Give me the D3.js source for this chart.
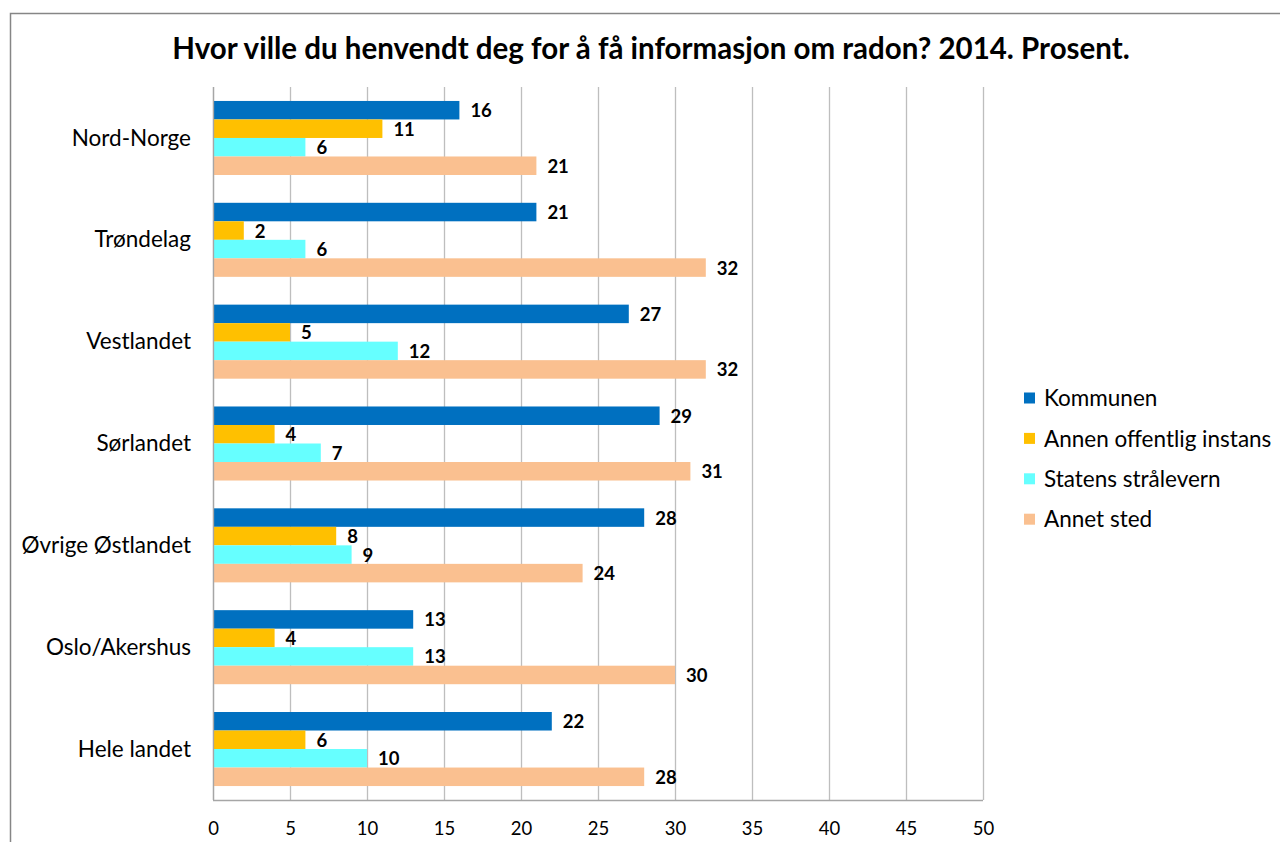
<!DOCTYPE html>
<html>
<head>
<meta charset="utf-8">
<script src="https://cdn.jsdelivr.net/npm/d3@7"></script>
<style>
	body { margin: 0; background: #fff; }
	svg { display: block; font-family: Lato, "Open Sans", sans-serif; }
</style>
</head>
<body>
<svg id="chart" width="1280" height="842"></svg>
<script>
// regions, top to bottom
const regions = ['Nord-Norge', 'Trøndelag', 'Vestlandet', 'Sørlandet', 'Øvrige Østlandet', 'Oslo/Akershus', 'Hele landet'];
const seriesNames = ['Kommunen', 'Annen offentlig instans', 'Statens strålevern', 'Annet sted'];
const seriesColors = ['#0070C0', '#FFC000', '#66FFFF', '#FAC090'];

const kommunen = [16, 21, 27, 29, 28, 13, 22];
const annenInstans = [11, 2, 5, 4, 8, 4, 6];
const stralevern = [6, 6, 12, 7, 9, 13, 10];
const annetSted = [21, 32, 32, 31, 24, 30, 28];
const xTicks = [0, 5, 10, 15, 20, 25, 30, 35, 40, 45, 50];

const series = [kommunen, annenInstans, stralevern, annetSted];

const svg = d3.select('#chart');

// outer chart frame
svg.append('rect')
	.attr('x', 10.5).attr('y', 13.5)
	.attr('width', 1300).attr('height', 900)
	.attr('fill', 'none')
	.attr('stroke', '#868686')
	.attr('stroke-width', 1.5);

svg.append('text')
	.attr('x', 651).attr('y', 59)
	.attr('text-anchor', 'middle')
	.attr('font-weight', 'bold')
	.attr('font-size', 29.5)
	.attr('fill', '#000')
	.text('Hvor ville du henvendt deg for å få informasjon om radon? 2014. Prosent.');

const plotLeft = 213, plotRight = 983, plotTop = 87, plotBottom = 800;

const x = d3.scaleLinear().domain([0, 50]).range([plotLeft, plotRight]);
const y0 = d3.scaleBand().domain(regions).range([plotTop, plotBottom]).paddingInner(0.273).paddingOuter(0.137);
const y1 = d3.scaleBand().domain(d3.range(4)).range([0, y0.bandwidth()]);

// gridlines
svg.append('g')
	.selectAll('line')
	.data(xTicks)
	.join('line')
		.attr('x1', d => Math.round(x(d)) + 0.5)
		.attr('x2', d => Math.round(x(d)) + 0.5)
		.attr('y1', plotTop).attr('y2', plotBottom)
		.attr('stroke', '#BEBEBE')
		.attr('stroke-width', 1.3);

// bars
const groups = svg.append('g')
	.selectAll('g')
	.data(regions)
	.join('g')
		.attr('transform', d => `translate(0,${y0(d)})`);

groups.selectAll('rect')
	.data((d, i) => series.map((s, k) => ({ k, v: s[i] })))
	.join('rect')
		.attr('x', x(0))
		.attr('y', d => y1(d.k))
		.attr('width', d => x(d.v) - x(0))
		.attr('height', y1.bandwidth())
		.attr('fill', d => seriesColors[d.k]);

groups.selectAll('text')
	.data((d, i) => series.map((s, k) => ({ k, v: s[i] })))
	.join('text')
		.attr('x', d => x(d.v) + 11)
		.attr('y', d => y1(d.k) + y1.bandwidth() / 2)
		.attr('dy', '0.38em')
		.attr('font-size', 18.5)
		.attr('font-weight', 'bold')
		.attr('fill', '#000')
		.text(d => d.v);

// axis baseline and left axis
svg.append('line')
	.attr('x1', plotLeft).attr('x2', plotRight)
	.attr('y1', plotBottom + 0.5).attr('y2', plotBottom + 0.5)
	.attr('stroke', '#A6A6A6').attr('stroke-width', 1.3);
svg.append('line')
	.attr('x1', plotLeft + 0.5).attr('x2', plotLeft + 0.5)
	.attr('y1', plotTop).attr('y2', plotBottom)
	.attr('stroke', '#A6A6A6').attr('stroke-width', 1.3);

// x tick labels
const xAxis = svg.append('g')
	.attr('transform', `translate(0,${plotBottom})`)
	.call(d3.axisBottom(x).tickValues(xTicks).tickSize(0).tickPadding(22));
xAxis.select('.domain').remove();
xAxis.selectAll('text')
	.attr('font-family', 'Lato, "Open Sans", sans-serif')
	.attr('font-size', 18.5)
	.attr('fill', '#000');

// category labels
const yAxis = svg.append('g')
	.attr('transform', `translate(${plotLeft},0)`)
	.call(d3.axisLeft(y0).tickSize(0).tickPadding(22));
yAxis.select('.domain').remove();
yAxis.selectAll('text')
	.attr('font-family', 'Lato, "Open Sans", sans-serif')
	.attr('font-size', 22.5)
	.attr('dy', '0.34em')
	.attr('fill', '#000');

// legend
const legend = svg.append('g').attr('transform', 'translate(1024,398)');
const items = legend.selectAll('g')
	.data(seriesNames)
	.join('g')
		.attr('transform', (d, i) => `translate(0,${i * 40.4})`);
items.append('rect')
	.attr('x', 0).attr('y', -5.5)
	.attr('width', 11).attr('height', 11)
	.attr('fill', (d, i) => seriesColors[i]);
items.append('text')
	.attr('x', 20).attr('y', 0)
	.attr('dy', '0.36em')
	.attr('font-size', 22.5)
	.attr('fill', '#000')
	.text(d => d);
</script>
</body>
</html>
